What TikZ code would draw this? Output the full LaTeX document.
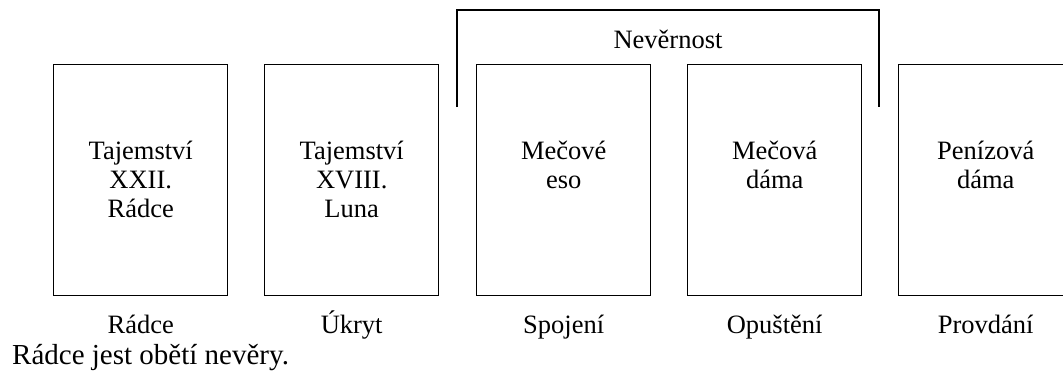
\documentclass[tikz,border=0pt]{standalone}
\usepackage{fontspec}
\setmainfont{Liberation Serif}
\begin{document}
\begin{tikzpicture}[x=1pt,y=-1pt,
  card/.style={draw, line width=1.4pt, minimum width=174pt, minimum height=231pt, inner sep=0pt, anchor=north west},
  txt/.style={font=\fontsize{26.5}{29}\selectfont, align=center, anchor=base, inner sep=0pt},
  bracket/.style={draw, line width=1.2pt}]
\useasboundingbox (0,0) rectangle (1063,373);
\clip (0,0) rectangle (1063,373);
\node[card] (c1) at (53,64) {};
\node[card] (c2) at (264,64) {};
\node[card] (c3) at (476,64) {};
\node[card] (c4) at (687,64) {};
\node[card] (c5) at (898,64) {};
% base anchor = baseline of the last line; first line baseline at 159
\node[txt] (t1) at (c1.north |- 0,217) {Tajemství\\XXII.\\Rádce};
\node[txt] (t2) at (c2.north |- 0,217) {Tajemství\\XVIII.\\Luna};
\node[txt] (t3) at (c3.north |- 0,188) {Mečové\\eso};
\node[txt] (t4) at (c4.north |- 0,188) {Mečová\\dáma};
\node[txt] (t5) at (c5.north |- 0,188) {Penízová\\dáma};
\node[txt] (l1) at (c1.south |- 0,333) {Rádce};
\node[txt] (l2) at (c2.south |- 0,333) {Úkryt};
\node[txt] (l3) at (c3.south |- 0,333) {Spojení};
\node[txt] (l4) at (c4.south |- 0,333) {Opuštění};
\node[txt] (l5) at (c5.south |- 0,333) {Provdání};
\node[txt, anchor=base west, font=\fontsize{29}{32}\selectfont] (s) at (12,364) {Rádce jest obětí nevěry.};
\coordinate (bl) at (457,107);
\coordinate (br) at (879,107);
\draw[bracket] (bl) -- ++(0,-97) -| (br);
\node[txt] (nv) at (668,48) {Nevěrnost};
\end{tikzpicture}
\end{document}
